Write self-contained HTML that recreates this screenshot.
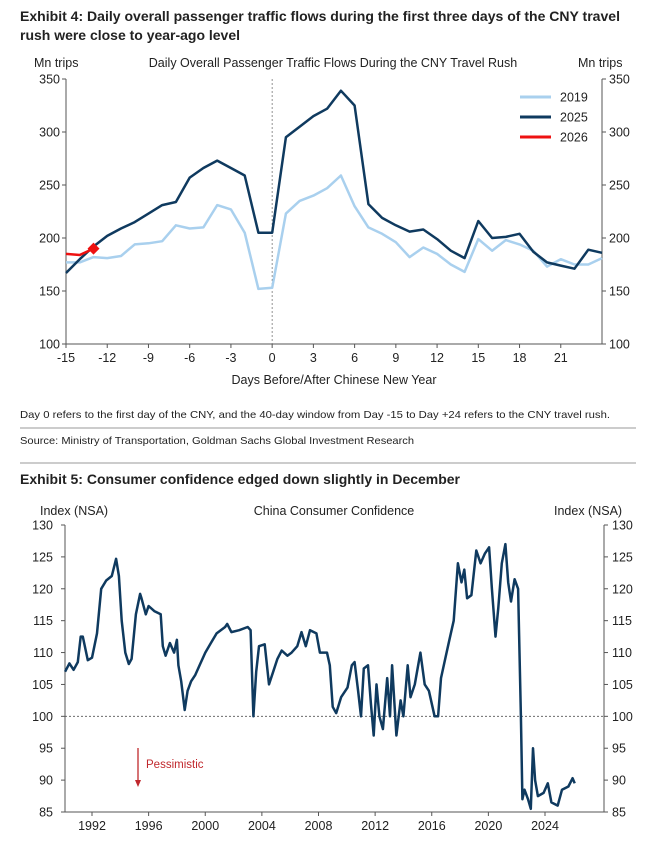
<!DOCTYPE html>
<html><head><meta charset="utf-8">
<style>
html,body{margin:0;padding:0;background:#fff;}
svg{display:block;font-family:"Liberation Sans",Arial,sans-serif;}
</style></head>
<body>
<svg id="root" width="656" height="848" viewBox="0 0 656 848" xmlns="http://www.w3.org/2000/svg">
<text x="20" y="21" font-size="14" font-weight="bold" fill="#222" textLength="600" lengthAdjust="spacingAndGlyphs">Exhibit 4: Daily overall passenger traffic flows during the first three days of the CNY travel</text>
<text x="20" y="40" font-size="14" font-weight="bold" fill="#222" textLength="220" lengthAdjust="spacingAndGlyphs">rush were close to year-ago level</text>
<g id="c1"></g>
<text x="20" y="418" font-size="10.5" fill="#222" textLength="590" lengthAdjust="spacingAndGlyphs">Day 0 refers to the first day of the CNY, and the 40-day window from Day -15 to Day +24 refers to the CNY travel rush.</text>
<line x1="20" y1="428" x2="636" y2="428" stroke="#999" stroke-width="1"/>
<text x="20" y="444" font-size="10.5" fill="#222" textLength="394" lengthAdjust="spacingAndGlyphs">Source: Ministry of Transportation, Goldman Sachs Global Investment Research</text>
<line x1="20" y1="463" x2="636" y2="463" stroke="#999" stroke-width="1"/>
<text x="20" y="484" font-size="14" font-weight="bold" fill="#222" textLength="440" lengthAdjust="spacingAndGlyphs">Exhibit 5: Consumer confidence edged down slightly in December</text>
<g id="c2"></g>
</svg>
<script>
// ---- Chart 1 data ----
const days = [-15,-14,-13,-12,-11,-10,-9,-8,-7,-6,-5,-4,-3,-2,-1,0,1,2,3,4,5,6,7,8,9,10,11,12,13,14,15,16,17,18,19,20,21,22,23,24];
const s2019 = [177,177,182,181,183,194,195,197,212,209,210,231,227,205,152,153,223,235,240,247,259,230,210,204,196,182,191,185,175,168,199,188,198,194,188,173,180,175,175,181];
const s2025 = [167,180,192,202,209,215,223,231,234,257,266,273,266,259,205,205,295,305,315,322,339,325,232,219,212,206,208,199,188,181,216,200,201,204,187,177,174,171,189,186];
const days2026 = [-15,-14,-13];
const s2026 = [185,184,190];
const c1YTicks = [100,150,200,250,300,350];
const c1XTicks = [-15,-12,-9,-6,-3,0,3,6,9,12,15,18,21];
const c1Legend = ["2019","2025","2026"];

// ---- Chart 2 data ----
const ccYears = [1990.1,1990.4,1990.7,1991.0,1991.2,1991.35,1991.7,1992.0,1992.35,1992.65,1993.0,1993.4,1993.7,1993.9,1994.1,1994.35,1994.6,1994.8,1995.1,1995.4,1995.5,1995.8,1996.0,1996.4,1996.85,1997.0,1997.2,1997.5,1997.8,1998.0,1998.1,1998.3,1998.55,1998.75,1999.0,1999.3,1999.6,2000.0,2000.4,2000.8,2001.4,2001.55,2001.85,2002.4,2003.0,2003.2,2003.4,2003.6,2003.8,2004.2,2004.5,2004.8,2005.1,2005.4,2005.8,2006.1,2006.5,2006.8,2007.1,2007.4,2007.85,2008.1,2008.6,2008.8,2009.0,2009.25,2009.6,2010.05,2010.35,2010.55,2010.8,2011.0,2011.2,2011.5,2011.7,2011.9,2012.1,2012.3,2012.55,2012.85,2013.05,2013.2,2013.5,2013.8,2014.0,2014.3,2014.5,2014.8,2015.2,2015.5,2015.8,2016.2,2016.45,2016.65,2016.95,2017.25,2017.55,2017.85,2018.1,2018.3,2018.5,2018.8,2019.15,2019.45,2019.75,2020.05,2020.25,2020.5,2020.7,2020.95,2021.2,2021.4,2021.6,2021.85,2022.1,2022.3,2022.4,2022.55,2022.8,2023.0,2023.15,2023.3,2023.5,2023.9,2024.2,2024.45,2024.9,2025.2,2025.65,2025.95,2026.1];
const ccValues = [107,108.3,107.3,108.5,112.5,112.5,108.8,109.2,113,120,121.3,122,124.7,122,115,110,108.2,109,116,119.2,118.5,116,117.3,116.5,116,111,109.5,111.5,110,112,108,105.5,101,104,105.5,106.5,108,110,111.5,113,114,114.5,113.2,113.5,114,113.5,100,107,111,111.3,105,107,109,110.3,109.5,110,111,113.2,111,113.5,113,110,110,108,101.5,100.5,103,104.5,108,108.5,104,100,107.5,108,102,97,105,100,98,106,100,108,97,102.5,100,108,103,105,110,105,104,100,100,106,109,112,115,124,121,123,118.5,119,126,124,125.5,126.5,120,112.5,117,124,127,121,118,121.5,120,100,87,88.5,87,85.5,95,90,87.5,88,89.5,86.5,86,88.5,89,90.3,89.5];
const c2YTicks = [85,90,95,100,105,110,115,120,125,130];
const c2XTicks = [1992,1996,2000,2004,2008,2012,2016,2020,2024];

const NS = "http://www.w3.org/2000/svg";
function mk(parent, tag, attrs, text){
  const e = document.createElementNS(NS, tag);
  for (const k in attrs) e.setAttribute(k, attrs[k]);
  if (text !== undefined) e.textContent = text;
  parent.appendChild(e);
  return e;
}

// ===== Chart 1 =====
(function(){
  const g = document.getElementById('c1');
  const L=66, R=602, T=79, B=344;
  const x = d => L + (d - (-15)) * (R - L) / 39;
  const y = v => B - (v - 100) * (B - T) / 250;
  const TXT = "#222";
  let e;
  e = mk(g,'text',{x:34,y:67,'font-size':12.5,fill:TXT},'Mn trips');
  
  
  e = mk(g,'text',{x:578,y:67,'font-size':12.5,fill:TXT},'Mn trips');
  
  
  e = mk(g,'text',{x:333,y:67,'font-size':12.5,fill:TXT,'text-anchor':'middle'},'Daily Overall Passenger Traffic Flows During the CNY Travel Rush');
  
  
  // axes
  e = mk(g,'line',{x1:L,y1:T,x2:L,y2:B,stroke:'#555','stroke-width':1});
  
  
  e = mk(g,'line',{x1:R,y1:T,x2:R,y2:B,stroke:'#555','stroke-width':1});
  
  
  e = mk(g,'line',{x1:L,y1:B,x2:R,y2:B,stroke:'#555','stroke-width':1});
  
  
  c1YTicks.forEach(v=>{
    mk(g,'line',{x1:L-4,y1:y(v),x2:L,y2:y(v),stroke:'#555'});
    mk(g,'line',{x1:R,y1:y(v),x2:R+4,y2:y(v),stroke:'#555'});
    let t = mk(g,'text',{x:L-6,y:y(v)+4.5,'font-size':12.5,fill:TXT,'text-anchor':'end'},String(v));
    
    
    t = mk(g,'text',{x:R+7,y:y(v)+4.5,'font-size':12.5,fill:TXT},String(v));
    
    
  });
  c1XTicks.forEach(d=>{
    mk(g,'line',{x1:x(d),y1:B,x2:x(d),y2:B+4,stroke:'#555'});
    const t = mk(g,'text',{x:x(d),y:B+18,'font-size':12.5,fill:TXT,'text-anchor':'middle'},String(d));
    
    
  });
  e = mk(g,'text',{x:334,y:384,'font-size':12.5,fill:TXT,'text-anchor':'middle'},'Days Before/After Chinese New Year');
  
  
  // day 0 line
  e = mk(g,'line',{x1:x(0),y1:T,x2:x(0),y2:B,stroke:'#777','stroke-width':0.8,'stroke-dasharray':'2,2'});
  
  
  const path = (xs, vs) => xs.map((d,i)=>(i?'L':'M')+x(d).toFixed(1)+','+y(vs[i]).toFixed(1)).join(' ');
  e = mk(g,'path',{d:path(days,s2019),fill:'none',stroke:'#a9d0ee','stroke-width':2.5,'stroke-linejoin':'round'});
  
  
  e = mk(g,'path',{d:path(days,s2025),fill:'none',stroke:'#0f3a5f','stroke-width':2.5,'stroke-linejoin':'round'});
  
  
  e = mk(g,'path',{d:path(days2026,s2026),fill:'none',stroke:'#ee1111','stroke-width':2.5});
  
  
  const ld = days2026[days2026.length-1], lv = s2026[s2026.length-1];
  const cx = x(ld), cy = y(lv);
  e = mk(g,'polygon',{points:`${cx},${cy-6} ${cx+6},${cy} ${cx},${cy+6} ${cx-6},${cy}`,fill:'#ee1111'});
  
  
  // legend
  const cols = ['#a9d0ee','#0f3a5f','#ee1111'];
  c1Legend.forEach((lab,i)=>{
    const ly = 97 + i*20;
    const le = mk(g,'g',{});
    
    
    mk(le,'line',{x1:520,y1:ly,x2:551,y2:ly,stroke:cols[i],'stroke-width':3});
    mk(le,'text',{x:560,y:ly+4.5,'font-size':12.5,fill:TXT},lab);
  });
})();

// ===== Chart 2 =====
(function(){
  const g = document.getElementById('c2');
  const L=65, R=604, T=525, B=812;
  const x0 = 1992, px0 = 92, pxPerYear = (545-92)/32;
  const x = yr => px0 + (yr - x0) * pxPerYear;
  const y = v => B - (v - 85) * (B - T) / 45;
  const TXT = "#222";
  let e;
  e = mk(g,'text',{x:40,y:515,'font-size':12.5,fill:TXT},'Index (NSA)');
  
  
  e = mk(g,'text',{x:554,y:515,'font-size':12.5,fill:TXT},'Index (NSA)');
  
  
  e = mk(g,'text',{x:334,y:515,'font-size':12.5,fill:TXT,'text-anchor':'middle'},'China Consumer Confidence');
  
  
  e = mk(g,'line',{x1:L,y1:T,x2:L,y2:B,stroke:'#555'});
  
  
  e = mk(g,'line',{x1:R,y1:T,x2:R,y2:B,stroke:'#555'});
  
  
  e = mk(g,'line',{x1:L,y1:B,x2:R,y2:B,stroke:'#555'});
  
  
  c2YTicks.forEach(v=>{
    mk(g,'line',{x1:L-4,y1:y(v),x2:L,y2:y(v),stroke:'#555'});
    mk(g,'line',{x1:R,y1:y(v),x2:R+4,y2:y(v),stroke:'#555'});
    let t = mk(g,'text',{x:L-12,y:y(v)+4.5,'font-size':12.5,fill:TXT,'text-anchor':'end'},String(v));
    
    
    t = mk(g,'text',{x:R+8,y:y(v)+4.5,'font-size':12.5,fill:TXT},String(v));
    
    
  });
  c2XTicks.forEach(yr=>{
    mk(g,'line',{x1:x(yr),y1:B,x2:x(yr),y2:B+4,stroke:'#555'});
    const t = mk(g,'text',{x:x(yr),y:B+18,'font-size':12.5,fill:TXT,'text-anchor':'middle'},String(yr));
    
    
  });
  e = mk(g,'line',{x1:L,y1:y(100),x2:R,y2:y(100),stroke:'#555','stroke-width':0.8,'stroke-dasharray':'2,2'});
  
  
  const d = ccYears.map((yr,i)=>(i?'L':'M')+x(yr).toFixed(1)+','+y(ccValues[i]).toFixed(1)).join(' ');
  e = mk(g,'path',{d:d,fill:'none',stroke:'#0f3a5f','stroke-width':2.5,'stroke-linejoin':'round'});
  
  
  e = mk(g,'line',{x1:138,y1:748,x2:138,y2:782,stroke:'#c0282d','stroke-width':1.3});
  
  
  mk(g,'polygon',{points:'135,780 141,780 138,787',fill:'#c0282d'});
  e = mk(g,'text',{x:146,y:768,'font-size':11.5,fill:'#c0282d'},'Pessimistic');
  
  
})();
</script>
</body></html>
